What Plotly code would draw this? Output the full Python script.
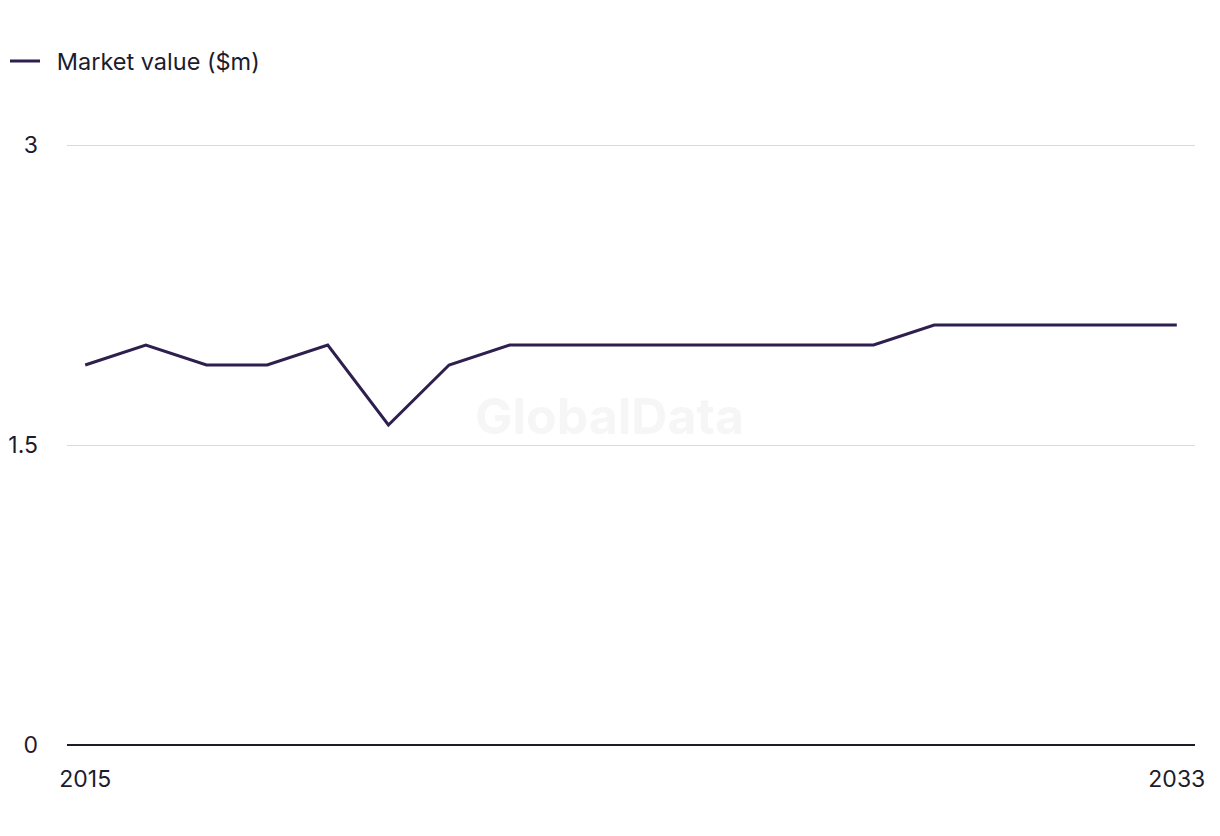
import plotly.graph_objects as go

years = list(range(2015, 2034))
market_value = [1.9, 2.0, 1.9, 1.9, 2.0, 1.6, 1.9, 2.0, 2.0, 2.0, 2.0, 2.0, 2.0, 2.0, 2.1, 2.1, 2.1, 2.1, 2.1]
y_ticks = [0, 1.5, 3]
y_tick_labels = ["0", "1.5", "3"]
x_ticks = [2015, 2033]

line_color = "#2e1f4f"
text_color = "#1c1c2e"
font_family = "Inter, Roboto, Liberation Sans, sans-serif"

fig = go.Figure()
fig.add_trace(go.Scatter(
    x=years, y=market_value, mode="lines", name="\u2002Market value ($m)",
    line=dict(color=line_color, width=3),
))

fig.update_layout(
    width=1220, height=836,
    margin=dict(l=67, r=25, t=141, b=91),
    paper_bgcolor="white", plot_bgcolor="white",
    font=dict(family=font_family, size=23, color=text_color),
    showlegend=True,
    legend=dict(orientation="h", x=5 / 1220, y=0.953, xref="container", yref="container",
                xanchor="left", yanchor="top",
                font=dict(size=23.5, color=text_color), itemwidth=30,
                bgcolor="rgba(0,0,0,0)", tracegroupgap=0),
    xaxis=dict(range=[2014.7, 2033.3], tickvals=x_ticks, ticktext=[str(v) for v in x_ticks],
               showgrid=False, zeroline=False, showline=False, ticks="", automargin=False,
               ticklabelstandoff=18, tickfont=dict(size=23, color=text_color)),
    yaxis=dict(range=[0, 3.02], tickvals=y_ticks, ticktext=y_tick_labels,
               showgrid=True, gridcolor="#d9d9d9", gridwidth=1,
               zeroline=True, zerolinecolor="#1c1c2e", zerolinewidth=2,
               showline=False, ticks="", ticklabelstandoff=28, automargin=False,
               tickfont=dict(size=23, color=text_color)),
    annotations=[dict(text="<b>GlobalData</b>", x=0.481, y=0.545, xref="paper", yref="paper",
                      showarrow=False, font=dict(size=50, color="#f6f6f6", family=font_family))],
)

fig.write_html("out.html")
